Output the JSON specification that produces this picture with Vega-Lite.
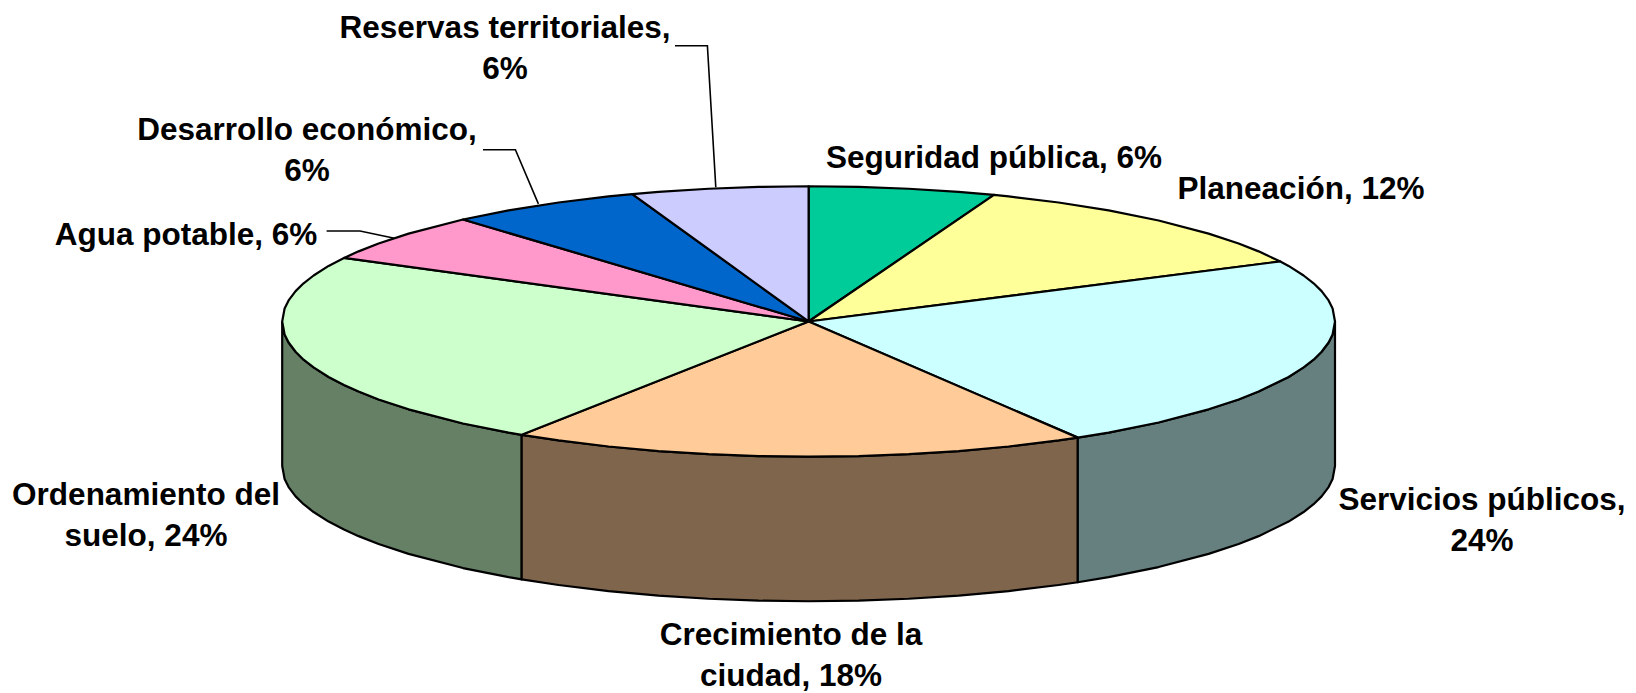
{"$schema":"https://vega.github.io/schema/vega-lite/v6.json","width":1636,"height":693,"padding":0,"autosize":{"type":"fit","contains":"padding"},"background":"white","view":{"stroke":null},"datasets":{"sides":[
{"s":"Ordenamiento lado","i":1,"x":282.2,"y":322.4},{"s":"Ordenamiento lado","i":2,"x":284.6,"y":335.4},{"s":"Ordenamiento lado","i":3,"x":288.6,"y":343.5},{"s":"Ordenamiento lado","i":4,"x":295.6,"y":352.8},{"s":"Ordenamiento lado","i":5,"x":303.6,"y":360.7},{"s":"Ordenamiento lado","i":6,"x":313.6,"y":368.5},{"s":"Ordenamiento lado","i":7,"x":328.6,"y":378.1},{"s":"Ordenamiento lado","i":8,"x":344,"y":386.1},{"s":"Ordenamiento lado","i":9,"x":358.6,"y":392.7},{"s":"Ordenamiento lado","i":10,"x":378.6,"y":400.6},{"s":"Ordenamiento lado","i":11,"x":408.6,"y":410.5},{"s":"Ordenamiento lado","i":12,"x":463,"y":424.7},{"s":"Ordenamiento lado","i":13,"x":508.6,"y":433.8},{"s":"Ordenamiento lado","i":14,"x":521.7,"y":436.1},
{"s":"Ordenamiento lado","i":15,"x":521.7,"y":581.1},{"s":"Ordenamiento lado","i":16,"x":508.6,"y":578.8},{"s":"Ordenamiento lado","i":17,"x":463,"y":569.7},{"s":"Ordenamiento lado","i":18,"x":408.6,"y":555.5},{"s":"Ordenamiento lado","i":19,"x":378.6,"y":545.6},{"s":"Ordenamiento lado","i":20,"x":358.6,"y":537.7},{"s":"Ordenamiento lado","i":21,"x":344,"y":531.1},{"s":"Ordenamiento lado","i":22,"x":328.6,"y":523.1},{"s":"Ordenamiento lado","i":23,"x":313.6,"y":513.5},{"s":"Ordenamiento lado","i":24,"x":303.6,"y":505.7},{"s":"Ordenamiento lado","i":25,"x":295.6,"y":497.8},{"s":"Ordenamiento lado","i":26,"x":288.6,"y":488.5},{"s":"Ordenamiento lado","i":27,"x":284.6,"y":480.4},{"s":"Ordenamiento lado","i":28,"x":282.2,"y":467.4},{"s":"Ordenamiento lado","i":29,"x":282.2,"y":322.4},
{"s":"Crecimiento lado","i":1,"x":521.7,"y":436.1},{"s":"Crecimiento lado","i":2,"x":558.6,"y":441.7},{"s":"Crecimiento lado","i":3,"x":608.6,"y":447.8},{"s":"Crecimiento lado","i":4,"x":658.6,"y":452.4},{"s":"Crecimiento lado","i":5,"x":708.6,"y":455.5},{"s":"Crecimiento lado","i":6,"x":758.6,"y":457.4},{"s":"Crecimiento lado","i":7,"x":808.6,"y":458},{"s":"Crecimiento lado","i":8,"x":858.6,"y":457.4},{"s":"Crecimiento lado","i":9,"x":908.6,"y":455.5},{"s":"Crecimiento lado","i":10,"x":958.6,"y":452.4},{"s":"Crecimiento lado","i":11,"x":1008.6,"y":447.8},{"s":"Crecimiento lado","i":12,"x":1058.6,"y":441.7},{"s":"Crecimiento lado","i":13,"x":1077.8,"y":438.9},
{"s":"Crecimiento lado","i":14,"x":1077.8,"y":583.9},{"s":"Crecimiento lado","i":15,"x":1058.6,"y":586.7},{"s":"Crecimiento lado","i":16,"x":1008.6,"y":592.8},{"s":"Crecimiento lado","i":17,"x":958.6,"y":597.4},{"s":"Crecimiento lado","i":18,"x":908.6,"y":600.5},{"s":"Crecimiento lado","i":19,"x":858.6,"y":602.4},{"s":"Crecimiento lado","i":20,"x":808.6,"y":603},{"s":"Crecimiento lado","i":21,"x":758.6,"y":602.4},{"s":"Crecimiento lado","i":22,"x":708.6,"y":600.5},{"s":"Crecimiento lado","i":23,"x":658.6,"y":597.4},{"s":"Crecimiento lado","i":24,"x":608.6,"y":592.8},{"s":"Crecimiento lado","i":25,"x":558.6,"y":586.7},{"s":"Crecimiento lado","i":26,"x":521.7,"y":581.1},{"s":"Crecimiento lado","i":27,"x":521.7,"y":436.1},
{"s":"Servicios lado","i":1,"x":1077.8,"y":438.9},{"s":"Servicios lado","i":2,"x":1108.6,"y":433.8},{"s":"Servicios lado","i":3,"x":1158.6,"y":423.7},{"s":"Servicios lado","i":4,"x":1208.6,"y":410.5},{"s":"Servicios lado","i":5,"x":1238.6,"y":400.6},{"s":"Servicios lado","i":6,"x":1258.6,"y":392.7},{"s":"Servicios lado","i":7,"x":1288.6,"y":378.1},{"s":"Servicios lado","i":8,"x":1303.6,"y":368.5},{"s":"Servicios lado","i":9,"x":1313.6,"y":360.7},{"s":"Servicios lado","i":10,"x":1321.6,"y":352.8},{"s":"Servicios lado","i":11,"x":1328.6,"y":343.5},{"s":"Servicios lado","i":12,"x":1332.6,"y":335.4},{"s":"Servicios lado","i":13,"x":1335,"y":322.4},
{"s":"Servicios lado","i":14,"x":1335,"y":467.4},{"s":"Servicios lado","i":15,"x":1332.6,"y":480.4},{"s":"Servicios lado","i":16,"x":1328.6,"y":488.5},{"s":"Servicios lado","i":17,"x":1321.6,"y":497.8},{"s":"Servicios lado","i":18,"x":1313.6,"y":505.7},{"s":"Servicios lado","i":19,"x":1303.6,"y":513.5},{"s":"Servicios lado","i":20,"x":1288.6,"y":523.1},{"s":"Servicios lado","i":21,"x":1258.6,"y":537.7},{"s":"Servicios lado","i":22,"x":1238.6,"y":545.6},{"s":"Servicios lado","i":23,"x":1208.6,"y":555.5},{"s":"Servicios lado","i":24,"x":1158.6,"y":568.7},{"s":"Servicios lado","i":25,"x":1108.6,"y":578.8},{"s":"Servicios lado","i":26,"x":1077.8,"y":583.9},{"s":"Servicios lado","i":27,"x":1077.8,"y":438.9}
],"tops":[
{"s":"Seguridad pública","i":1,"x":808.6,"y":322.4},{"s":"Seguridad pública","i":2,"x":808.6,"y":186.8},{"s":"Seguridad pública","i":3,"x":858.6,"y":187.4},{"s":"Seguridad pública","i":4,"x":908.6,"y":189.3},{"s":"Seguridad pública","i":5,"x":958.6,"y":192.4},{"s":"Seguridad pública","i":6,"x":994,"y":195.5},{"s":"Seguridad pública","i":7,"x":808.6,"y":322.4},
{"s":"Planeación","i":1,"x":808.6,"y":322.4},{"s":"Planeación","i":2,"x":994,"y":195.5},{"s":"Planeación","i":3,"x":1008.6,"y":197},{"s":"Planeación","i":4,"x":1058.6,"y":203.1},{"s":"Planeación","i":5,"x":1108.6,"y":211},{"s":"Planeación","i":6,"x":1158.6,"y":221.1},{"s":"Planeación","i":7,"x":1208.6,"y":234.3},{"s":"Planeación","i":8,"x":1238.6,"y":244.2},{"s":"Planeación","i":9,"x":1258.6,"y":252.1},{"s":"Planeación","i":10,"x":1280.3,"y":262.2},{"s":"Planeación","i":11,"x":808.6,"y":322.4},
{"s":"Servicios públicos","i":1,"x":808.6,"y":322.4},{"s":"Servicios públicos","i":2,"x":1280.3,"y":262.2},{"s":"Servicios públicos","i":3,"x":1288.6,"y":266.7},{"s":"Servicios públicos","i":4,"x":1303.6,"y":276.3},{"s":"Servicios públicos","i":5,"x":1313.6,"y":284.1},{"s":"Servicios públicos","i":6,"x":1321.6,"y":292},{"s":"Servicios públicos","i":7,"x":1328.6,"y":301.3},{"s":"Servicios públicos","i":8,"x":1332.6,"y":309.4},{"s":"Servicios públicos","i":9,"x":1335,"y":322.4},{"s":"Servicios públicos","i":10,"x":1332.6,"y":335.4},{"s":"Servicios públicos","i":11,"x":1328.6,"y":343.5},{"s":"Servicios públicos","i":12,"x":1321.6,"y":352.8},{"s":"Servicios públicos","i":13,"x":1313.6,"y":360.7},{"s":"Servicios públicos","i":14,"x":1303.6,"y":368.5},{"s":"Servicios públicos","i":15,"x":1288.6,"y":378.1},{"s":"Servicios públicos","i":16,"x":1258.6,"y":392.7},{"s":"Servicios públicos","i":17,"x":1238.6,"y":400.6},{"s":"Servicios públicos","i":18,"x":1208.6,"y":410.5},{"s":"Servicios públicos","i":19,"x":1158.6,"y":423.7},{"s":"Servicios públicos","i":20,"x":1108.6,"y":433.8},{"s":"Servicios públicos","i":21,"x":1077.8,"y":438.9},{"s":"Servicios públicos","i":22,"x":808.6,"y":322.4},
{"s":"Crecimiento de la ciudad","i":1,"x":808.6,"y":322.4},{"s":"Crecimiento de la ciudad","i":2,"x":1077.8,"y":438.9},{"s":"Crecimiento de la ciudad","i":3,"x":1058.6,"y":441.7},{"s":"Crecimiento de la ciudad","i":4,"x":1008.6,"y":447.8},{"s":"Crecimiento de la ciudad","i":5,"x":958.6,"y":452.4},{"s":"Crecimiento de la ciudad","i":6,"x":908.6,"y":455.5},{"s":"Crecimiento de la ciudad","i":7,"x":858.6,"y":457.4},{"s":"Crecimiento de la ciudad","i":8,"x":808.6,"y":458},{"s":"Crecimiento de la ciudad","i":9,"x":758.6,"y":457.4},{"s":"Crecimiento de la ciudad","i":10,"x":708.6,"y":455.5},{"s":"Crecimiento de la ciudad","i":11,"x":658.6,"y":452.4},{"s":"Crecimiento de la ciudad","i":12,"x":608.6,"y":447.8},{"s":"Crecimiento de la ciudad","i":13,"x":558.6,"y":441.7},{"s":"Crecimiento de la ciudad","i":14,"x":521.7,"y":436.1},{"s":"Crecimiento de la ciudad","i":15,"x":808.6,"y":322.4},
{"s":"Ordenamiento del suelo","i":1,"x":808.6,"y":322.4},{"s":"Ordenamiento del suelo","i":2,"x":521.7,"y":436.1},{"s":"Ordenamiento del suelo","i":3,"x":508.6,"y":433.8},{"s":"Ordenamiento del suelo","i":4,"x":463,"y":424.7},{"s":"Ordenamiento del suelo","i":5,"x":408.6,"y":410.5},{"s":"Ordenamiento del suelo","i":6,"x":378.6,"y":400.6},{"s":"Ordenamiento del suelo","i":7,"x":358.6,"y":392.7},{"s":"Ordenamiento del suelo","i":8,"x":344,"y":386.1},{"s":"Ordenamiento del suelo","i":9,"x":328.6,"y":378.1},{"s":"Ordenamiento del suelo","i":10,"x":313.6,"y":368.5},{"s":"Ordenamiento del suelo","i":11,"x":303.6,"y":360.7},{"s":"Ordenamiento del suelo","i":12,"x":295.6,"y":352.8},{"s":"Ordenamiento del suelo","i":13,"x":288.6,"y":343.5},{"s":"Ordenamiento del suelo","i":14,"x":284.6,"y":335.4},{"s":"Ordenamiento del suelo","i":15,"x":282.2,"y":322.4},{"s":"Ordenamiento del suelo","i":16,"x":284.6,"y":309.4},{"s":"Ordenamiento del suelo","i":17,"x":288.6,"y":301.3},{"s":"Ordenamiento del suelo","i":18,"x":295.6,"y":292},{"s":"Ordenamiento del suelo","i":19,"x":303.6,"y":284.1},{"s":"Ordenamiento del suelo","i":20,"x":313.6,"y":276.3},{"s":"Ordenamiento del suelo","i":21,"x":328.6,"y":266.7},{"s":"Ordenamiento del suelo","i":22,"x":344,"y":258.7},{"s":"Ordenamiento del suelo","i":23,"x":808.6,"y":322.4},
{"s":"Agua potable","i":1,"x":808.6,"y":322.4},{"s":"Agua potable","i":2,"x":344,"y":258.7},{"s":"Agua potable","i":3,"x":358.6,"y":252.1},{"s":"Agua potable","i":4,"x":378.6,"y":244.2},{"s":"Agua potable","i":5,"x":408.6,"y":234.3},{"s":"Agua potable","i":6,"x":463,"y":220.1},{"s":"Agua potable","i":7,"x":808.6,"y":322.4},
{"s":"Desarrollo económico","i":1,"x":808.6,"y":322.4},{"s":"Desarrollo económico","i":2,"x":463,"y":220.1},{"s":"Desarrollo económico","i":3,"x":508.6,"y":211},{"s":"Desarrollo económico","i":4,"x":558.6,"y":203.1},{"s":"Desarrollo económico","i":5,"x":608.6,"y":197},{"s":"Desarrollo económico","i":6,"x":632.3,"y":194.6},{"s":"Desarrollo económico","i":7,"x":808.6,"y":322.4},
{"s":"Reservas territoriales","i":1,"x":808.6,"y":322.4},{"s":"Reservas territoriales","i":2,"x":632.3,"y":194.6},{"s":"Reservas territoriales","i":3,"x":658.6,"y":192.4},{"s":"Reservas territoriales","i":4,"x":708.6,"y":189.3},{"s":"Reservas territoriales","i":5,"x":758.6,"y":187.4},{"s":"Reservas territoriales","i":6,"x":808.6,"y":186.8},{"s":"Reservas territoriales","i":7,"x":808.6,"y":322.4}
],"leaders":[
{"s":"Reservas territoriales","i":1,"x":675,"y":45.9},{"s":"Reservas territoriales","i":2,"x":707.4,"y":45.9},{"s":"Reservas territoriales","i":3,"x":715.8,"y":187.8},
{"s":"Desarrollo económico","i":1,"x":483,"y":150.2},{"s":"Desarrollo económico","i":2,"x":515.4,"y":150.2},{"s":"Desarrollo económico","i":3,"x":538.4,"y":204.5},
{"s":"Agua potable","i":1,"x":326.6,"y":231.6},{"s":"Agua potable","i":2,"x":360,"y":231.6},{"s":"Agua potable","i":3,"x":394.4,"y":239}
],"labels":[
{"label":"Reservas territoriales,\n6%","x":505,"y":38},
{"label":"Desarrollo económico,\n6%","x":307,"y":140.5},
{"label":"Agua potable, 6%","x":186,"y":246},
{"label":"Seguridad pública, 6%","x":994,"y":168},
{"label":"Planeación, 12%","x":1301,"y":200},
{"label":"Servicios públicos,\n24%","x":1482,"y":511},
{"label":"Ordenamiento del\nsuelo, 24%","x":146,"y":506},
{"label":"Crecimiento de la\nciudad, 18%","x":791,"y":647}
]},
"encoding":{"x":{"field":"x","type":"quantitative","scale":{"domain":[0,1636],"nice":false,"zero":false},"axis":null},"y":{"field":"y","type":"quantitative","scale":{"domain":[693,0],"nice":false,"zero":false},"axis":null}},
"layer":[
{"data":{"name":"leaders"},"mark":{"type":"line","stroke":"black","strokeWidth":1.6},"encoding":{"detail":{"field":"s"},"order":{"field":"i","type":"quantitative"}}},
{"data":{"name":"sides"},"mark":{"type":"line","stroke":"black","strokeWidth":2.2,"strokeJoin":"round"},"encoding":{"fill":{"field":"s","type":"nominal","legend":null,"scale":{"domain":["Ordenamiento lado","Crecimiento lado","Servicios lado"],"range":["#668066","#80654D","#668080"]}},"detail":{"field":"s"},"order":{"field":"i","type":"quantitative"}}},
{"data":{"name":"tops"},"mark":{"type":"line","stroke":"black","strokeWidth":2.2,"strokeJoin":"round"},"encoding":{"fill":{"field":"s","type":"nominal","legend":null,"scale":{"domain":["Seguridad pública","Planeación","Servicios públicos","Crecimiento de la ciudad","Ordenamiento del suelo","Agua potable","Desarrollo económico","Reservas territoriales"],"range":["#00CC99","#FFFF99","#CCFFFF","#FFCC99","#CCFFCC","#FF99CC","#0066CC","#CCCCFF"]}},"detail":{"field":"s"},"order":{"field":"i","type":"quantitative"}}},
{"data":{"name":"labels"},"mark":{"type":"text","font":"Liberation Sans","fontWeight":"bold","fontSize":31.5,"color":"black","align":"center","baseline":"alphabetic","lineBreak":"\n","lineHeight":41},"encoding":{"text":{"field":"label"}}}
],
"resolve":{"scale":{"fill":"independent"}}}
